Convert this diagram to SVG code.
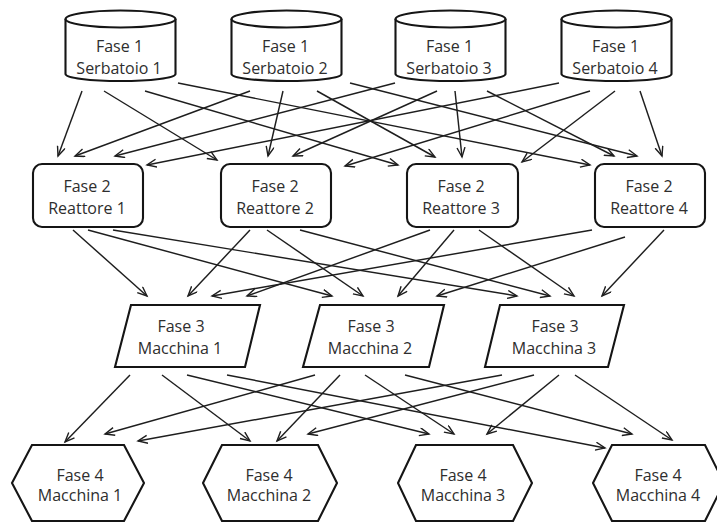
<svg xmlns="http://www.w3.org/2000/svg" width="717" height="522" viewBox="0 0 717 522">
  <defs>
    <marker id="arrow" markerUnits="userSpaceOnUse" markerWidth="13" markerHeight="11" refX="10" refY="4.5" orient="auto">
      <path d="M0.5,0.5 L10,4.5 L0.5,8.5" fill="none" stroke="#1e1e1e" stroke-width="1.4" stroke-linejoin="miter"/>
    </marker>
  </defs>
  <style>
    .node { fill: #fff; stroke: #151515; stroke-width: 2.1; }
    .label { font-family: "Open Sans", "DejaVu Sans", sans-serif; font-size: 16px; fill: #2e2e2e; text-anchor: middle; }
    #connectors line { stroke: #1e1e1e; stroke-width: 1.45; marker-end: url(#arrow); }
  </style>
  <rect width="717" height="522" fill="#fff"/>

  <!-- arrows between the four stages -->
  <g id="connectors">
    <!-- Fase 1 -> Fase 2 -->
    <line x1="82" y1="91" x2="58" y2="156"/>
    <line x1="104" y1="91" x2="217" y2="160"/>
    <line x1="145" y1="91" x2="398" y2="165"/>
    <line x1="178" y1="83" x2="590" y2="165"/>
    <line x1="250" y1="91" x2="75" y2="156"/>
    <line x1="283" y1="91" x2="268" y2="156"/>
    <line x1="317" y1="91" x2="435" y2="157"/>
    <line x1="350" y1="83" x2="637" y2="156"/>
    <line x1="395" y1="83" x2="115" y2="156"/>
    <line x1="437" y1="91" x2="293" y2="156"/>
    <line x1="455" y1="91" x2="462" y2="157"/>
    <line x1="487" y1="91" x2="614" y2="156"/>
    <line x1="559" y1="83" x2="147" y2="165"/>
    <line x1="590" y1="91" x2="345" y2="166"/>
    <line x1="615" y1="91" x2="522" y2="162"/>
    <line x1="640" y1="91" x2="662" y2="156"/>
    <!-- Fase 2 -> Fase 3 -->
    <line x1="73" y1="230" x2="147" y2="296"/>
    <line x1="88" y1="230" x2="332" y2="296"/>
    <line x1="113" y1="230" x2="517" y2="296"/>
    <line x1="250" y1="230" x2="188" y2="296"/>
    <line x1="267" y1="230" x2="363" y2="296"/>
    <line x1="300" y1="230" x2="550" y2="296"/>
    <line x1="430" y1="230" x2="247" y2="296"/>
    <line x1="454" y1="230" x2="398" y2="296"/>
    <line x1="479" y1="230" x2="574" y2="296"/>
    <line x1="592" y1="230" x2="212" y2="296"/>
    <line x1="625" y1="237" x2="437" y2="296"/>
    <line x1="664" y1="230" x2="602" y2="296"/>
    <!-- Fase 3 -> Fase 4 -->
    <line x1="130" y1="375" x2="65" y2="442"/>
    <line x1="162" y1="375" x2="250" y2="441"/>
    <line x1="187" y1="375" x2="429" y2="434"/>
    <line x1="227" y1="375" x2="605" y2="448"/>
    <line x1="315" y1="375" x2="105" y2="434"/>
    <line x1="340" y1="375" x2="277" y2="441"/>
    <line x1="365" y1="375" x2="454" y2="434"/>
    <line x1="405" y1="375" x2="632" y2="434"/>
    <line x1="502" y1="375" x2="138" y2="441"/>
    <line x1="534" y1="375" x2="308" y2="434"/>
    <line x1="559" y1="375" x2="487" y2="434"/>
    <line x1="575" y1="375" x2="672" y2="440"/>
  </g>

  <!-- Fase 1: tanks -->
  <g id="serbatoio1">
    <path class="node" d="M65.5,19 L65.5,74 A55,7 0 0 0 175.5,74 L175.5,19"/>
    <ellipse class="node" cx="120.5" cy="19" rx="55" ry="8.5"/>
    <text class="label" x="119.5" y="51.5">Fase 1</text>
    <text class="label" x="119" y="74">Serbatoio 1</text>
  </g>
  <g id="serbatoio2">
    <path class="node" d="M231.5,19 L231.5,74 A55,7 0 0 0 341.5,74 L341.5,19"/>
    <ellipse class="node" cx="286.5" cy="19" rx="55" ry="8.5"/>
    <text class="label" x="285.5" y="51.5">Fase 1</text>
    <text class="label" x="285" y="74">Serbatoio 2</text>
  </g>
  <g id="serbatoio3">
    <path class="node" d="M395.5,19 L395.5,74 A55,7 0 0 0 505.5,74 L505.5,19"/>
    <ellipse class="node" cx="450.5" cy="19" rx="55" ry="8.5"/>
    <text class="label" x="449.5" y="51.5">Fase 1</text>
    <text class="label" x="449" y="74">Serbatoio 3</text>
  </g>
  <g id="serbatoio4">
    <path class="node" d="M561.5,19 L561.5,74 A55,7 0 0 0 671.5,74 L671.5,19"/>
    <ellipse class="node" cx="616.5" cy="19" rx="55" ry="8.5"/>
    <text class="label" x="615.5" y="51.5">Fase 1</text>
    <text class="label" x="615" y="74">Serbatoio 4</text>
  </g>

  <!-- Fase 2: reactors -->
  <g id="reattore1">
    <rect class="node" x="33" y="164" width="110" height="63" rx="9"/>
    <text class="label" x="87" y="192">Fase 2</text>
    <text class="label" x="87" y="214">Reattore 1</text>
  </g>
  <g id="reattore2">
    <rect class="node" x="221" y="164" width="110" height="63" rx="9"/>
    <text class="label" x="275" y="192">Fase 2</text>
    <text class="label" x="275" y="214">Reattore 2</text>
  </g>
  <g id="reattore3">
    <rect class="node" x="407" y="164" width="111" height="63" rx="9"/>
    <text class="label" x="461" y="192">Fase 2</text>
    <text class="label" x="461" y="214">Reattore 3</text>
  </g>
  <g id="reattore4">
    <rect class="node" x="595" y="164" width="110" height="63" rx="9"/>
    <text class="label" x="649" y="192">Fase 2</text>
    <text class="label" x="649" y="214">Reattore 4</text>
  </g>

  <!-- Fase 3: machines (parallelograms) -->
  <g id="fase3-macchina1">
    <polygon class="node" points="131,305 260,305 245,367 115,367"/>
    <text class="label" x="181" y="332">Fase 3</text>
    <text class="label" x="180" y="354">Macchina 1</text>
  </g>
  <g id="fase3-macchina2">
    <polygon class="node" points="320,305 444,305 429,367 303,367"/>
    <text class="label" x="371" y="332">Fase 3</text>
    <text class="label" x="370" y="354">Macchina 2</text>
  </g>
  <g id="fase3-macchina3">
    <polygon class="node" points="500,305 624,305 608,367 485,367"/>
    <text class="label" x="555" y="332">Fase 3</text>
    <text class="label" x="554" y="354">Macchina 3</text>
  </g>

  <!-- Fase 4: machines (hexagons) -->
  <g id="fase4-macchina1">
    <polygon class="node" points="12,483 32,445 124,445 144,483 124,521 32,521"/>
    <text class="label" x="80" y="481">Fase 4</text>
    <text class="label" x="80" y="501">Macchina 1</text>
  </g>
  <g id="fase4-macchina2">
    <polygon class="node" points="203,483 222,445 318,445 337,483 318,521 222,521"/>
    <text class="label" x="269" y="481">Fase 4</text>
    <text class="label" x="269" y="501">Macchina 2</text>
  </g>
  <g id="fase4-macchina3">
    <polygon class="node" points="398,483 416,445 513,445 532,483 513,521 416,521"/>
    <text class="label" x="463" y="481">Fase 4</text>
    <text class="label" x="463" y="501">Macchina 3</text>
  </g>
  <g id="fase4-macchina4">
    <polygon class="node" points="593,483 612,445 705,445 724,483 705,521 612,521"/>
    <text class="label" x="658" y="481">Fase 4</text>
    <text class="label" x="658" y="501">Macchina 4</text>
  </g>
</svg>
